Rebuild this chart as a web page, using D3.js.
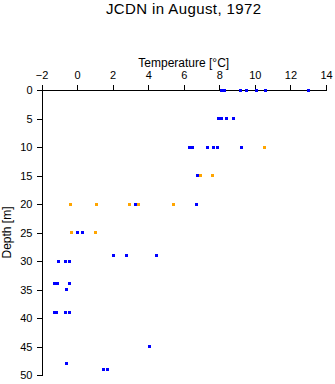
<!DOCTYPE html>
<html>
<head>
<meta charset="utf-8">
<script src="https://cdn.jsdelivr.net/npm/d3@7"></script>
<style>
  html, body { margin: 0; padding: 0; background: #fff; }
  svg { display: block; font-family: "Liberation Sans", Arial, Helvetica, sans-serif; }
</style>
</head>
<body>
<svg id="chart" width="335" height="384"></svg>
<script>
// ---- data ----
const title = "JCDN in August, 1972";
const xLabel = "Temperature [°C]";
const yLabel = "Depth [m]";
const xTicks = [-2, 0, 2, 4, 6, 8, 10, 12, 14];
const yTicks = [0, 5, 10, 15, 20, 25, 30, 35, 40, 45, 50];

const blueTemp = [8.10, 8.28, 9.20, 9.52, 10.08, 10.58, 13.0,
                  7.98, 8.12, 8.39, 8.79,
                  6.31, 6.51, 7.31, 7.70, 7.87, 9.22,
                  6.79,
                  3.28, 6.69,
                  0.02, 0.30,
                  2.04, 2.78, 4.48,
                  -1.04, -0.65, -0.40,
                  -1.27, -1.10, -0.43,
                  -0.60,
                  -1.29, -1.13, -0.65, -0.43,
                  4.07,
                  -0.60,
                  1.50, 1.71];
const blueDepth = [0, 0, 0, 0, 0, 0, 0,
                   5, 5, 5, 5,
                   10, 10, 10, 10, 10, 10,
                   15,
                   20, 20,
                   25, 25,
                   29, 29, 29,
                   30, 30, 30,
                   34, 34, 34,
                   35,
                   39, 39, 39, 39,
                   45,
                   48,
                   49, 49];
const orangeTemp = [10.55, 6.93, 7.61, -0.37, 1.09, 2.94, 3.47, 5.42, -0.31, 1.03];
const orangeDepth = [10, 15, 15, 20, 20, 20, 20, 20, 25, 25];

// ---- layout ----
const svg = d3.select("#chart");
const x = d3.scaleLinear().domain([-2, 14]).range([41.5, 326]);
const y = d3.scaleLinear().domain([0, 50]).range([90, 375]);

svg.append("text")
  .attr("x", (x.range()[0] + x.range()[1]) / 2)
  .attr("y", 14)
  .attr("text-anchor", "middle")
  .attr("font-size", 15)
  .attr("letter-spacing", 0.4)
  .text(title);

const xAxis = svg.append("g")
  .attr("transform", `translate(0,${y(0)})`)
  .call(d3.axisTop(x).tickValues(xTicks).tickSize(5).tickSizeOuter(0).tickPadding(6.5).tickFormat(d3.format("d")));
const yAxis = svg.append("g")
  .attr("transform", `translate(${x(-2)},0)`)
  .call(d3.axisLeft(y).tickValues(yTicks).tickSize(5).tickSizeOuter(0).tickPadding(4).tickFormat(d3.format("d")));

[xAxis, yAxis].forEach(g => {
  g.attr("font-family", null).attr("font-size", 11);
  g.selectAll("path, line").attr("stroke", "#000").attr("shape-rendering", "crispEdges");
  g.selectAll("text").attr("fill", "#000");
});

svg.append("text")
  .attr("x", (x.range()[0] + x.range()[1]) / 2)
  .attr("y", 67)
  .attr("text-anchor", "middle")
  .attr("font-size", 12)
  .text(xLabel);

svg.append("text")
  .attr("transform", `translate(11,${(y.range()[0] + y.range()[1]) / 2}) rotate(-90)`)
  .attr("text-anchor", "middle")
  .attr("font-size", 12)
  .text(yLabel);

function drawSeries(temps, depths, color) {
  svg.append("g").selectAll("rect")
    .data(temps.map((t, i) => ({ t, d: depths[i] })))
    .join("rect")
    .attr("x", p => x(p.t) - 1.5)
    .attr("y", p => y(p.d) - 1.5)
    .attr("width", 3)
    .attr("height", 3)
    .attr("fill", color)
    .attr("shape-rendering", "crispEdges");
}
drawSeries(orangeTemp, orangeDepth, "#ffa500");
drawSeries(blueTemp, blueDepth, "#0000ff");
</script>
</body>
</html>
